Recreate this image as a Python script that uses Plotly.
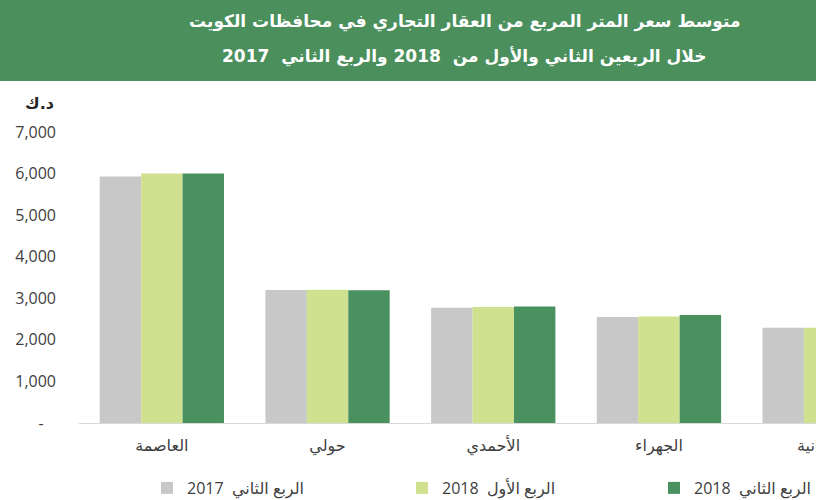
import plotly.graph_objects as go

categories = ["العاصمة", "حولي", "الأحمدي", "الجهراء", "الفروانية"]
series_names = ["الربع الثاني  2017", "الربع الأول  2018", "الربع الثاني  2018"]
q2_2017 = [5930, 3200, 2770, 2550, 2290]
q1_2018 = [6000, 3205, 2790, 2560, 2290]
q2_2018 = [6000, 3195, 2800, 2600, 2300]
colors = ["#c8c8c8", "#cfe08f", "#4a9160"]
tick_vals = [0, 1000, 2000, 3000, 4000, 5000, 6000, 7000]
tick_text = ["-\u00a0\u00a0\u00a0", "1,000", "2,000", "3,000", "4,000", "5,000", "6,000", "7,000"]
title_lines = ["متوسط سعر المتر المربع من العقار التجاري في محافظات الكويت",
               "خلال الربعين الثاني والأول من  2018 والربع الثاني  2017"]
unit_label = "د.ك"

W, H = 816, 500
ml, mr, mt, mb = 79, 0, 132, 77
pw, ph = W - ml - mr, H - mt - mb
x_lo, x_hi = -0.5, -0.5 + pw / 165.7

font_main = "Open Sans, DejaVu Sans, sans-serif"
legend_ids = ["legend", "legend2", "legend3"]
legend_px = [147, 402, 654]

fig = go.Figure()
for name, vals, c, lid in zip(series_names, [q2_2017, q1_2018, q2_2018], colors, legend_ids):
    fig.add_trace(go.Bar(x=categories, y=vals, name=name, marker_color=c,
                         marker_line_width=0, legend=lid))

legend_cfg = {}
for lid, px in zip(legend_ids, legend_px):
    legend_cfg[lid] = dict(orientation="h", x=(px - ml) / pw, xanchor="left",
                           yref="container", y=(H - 488) / H, yanchor="middle",
                           font=dict(size=16, color="#404040", family=font_main),
                           bgcolor="rgba(0,0,0,0)")

fig.update_layout(
    width=W, height=H,
    margin=dict(l=ml, r=mr, t=mt, b=mb, pad=0, autoexpand=False),
    plot_bgcolor="white", paper_bgcolor="white",
    barmode="group", bargap=0.25, bargroupgap=0,
    font=dict(family=font_main, size=16, color="#404040"),
    showlegend=True,
    xaxis=dict(range=[x_lo, x_hi], showline=True, linecolor="#d9d9d9",
               linewidth=1, ticks="", showgrid=False, zeroline=False,
               tickfont=dict(size=16, color="#404040", family="DejaVu Sans, sans-serif"),
               ticklabelstandoff=8),
    yaxis=dict(range=[0, 7000], tickvals=tick_vals, ticktext=tick_text,
               showgrid=False, zeroline=False, showline=False, ticks="",
               ticklabelstandoff=22,
               tickfont=dict(size=16, color="#404040", family=font_main)),
    **legend_cfg,
)

# category label of the partly visible last group (its tick lies outside the range)
last_idx = len(categories) - 1
fig.add_annotation(text=categories[last_idx], xref="paper", yref="paper",
                   x=(last_idx - x_lo) / (x_hi - x_lo),
                   y=(H - mb - 446) / ph, xanchor="center", yanchor="middle",
                   showarrow=False,
                   font=dict(size=16, color="#404040", family="DejaVu Sans, sans-serif"))

# title banner
fig.add_shape(type="rect", xref="paper", yref="paper",
              x0=-0.2, x1=1.2, y0=(H - mb - 81) / ph, y1=(H - mb + 5) / ph,
              fillcolor="#4a8f5c", line_width=0, layer="above")
for i, line in enumerate(title_lines):
    ypx = [21, 56][i]
    fig.add_annotation(text=f"<b>{line}</b>", xref="paper", yref="paper",
                       x=(465 - ml) / pw, y=(H - mb - ypx) / ph,
                       xanchor="center", yanchor="middle", showarrow=False,
                       font=dict(size=17, color="white", family="DejaVu Sans, sans-serif"))

fig.add_annotation(text=f"<b>{unit_label}</b>", xref="paper", yref="paper",
                   x=(56 - ml) / pw, y=(H - mb - 104) / ph, xanchor="right", yanchor="middle",
                   showarrow=False,
                   font=dict(size=16, color="#262626", family="DejaVu Sans, sans-serif"))

fig.write_html("out.html")
